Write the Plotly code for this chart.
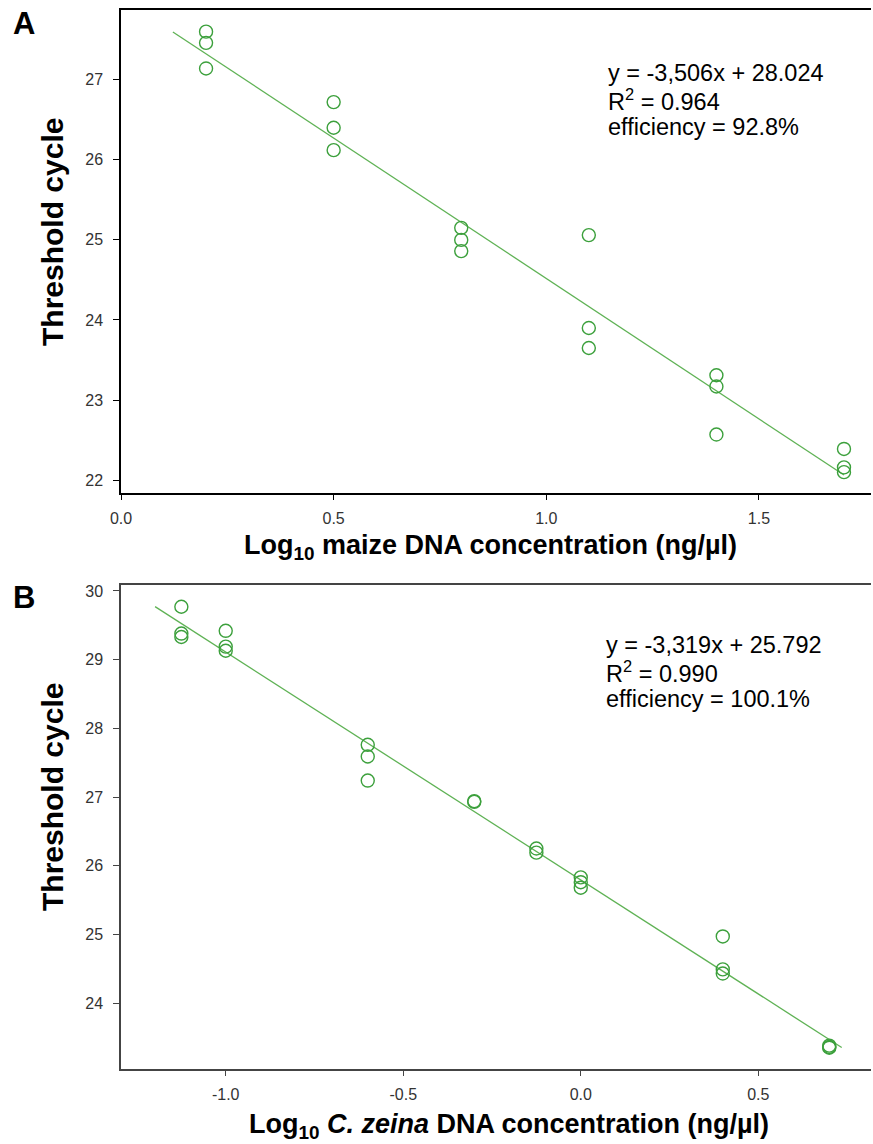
import plotly.graph_objects as go

# ---------------- data ----------------
# Panel A: maize
maize_x = [0.2, 0.2, 0.2, 0.5, 0.5, 0.5, 0.8, 0.8, 0.8,
           1.1, 1.1, 1.1, 1.4, 1.4, 1.4, 1.7, 1.7, 1.7]
maize_ct = [27.60, 27.46, 27.14, 26.72, 26.40, 26.12, 25.15, 25.00, 24.86,
            25.06, 23.90, 23.65, 23.31, 23.17, 22.57, 22.39, 22.16, 22.10]
maize_slope, maize_intercept = -3.506, 28.024
maize_fit_x = [0.122, 1.70]
maize_text = ["y = -3,506x + 28.024", "R<sup>2</sup> = 0.964", "efficiency = 92.8%"]

# Panel B: C. zeina
zeina_x = [-1.125, -1.125, -1.125, -1.0, -1.0, -1.0, -0.6, -0.6, -0.6,
           -0.3, -0.3, -0.125, -0.125, 0.0, 0.0, 0.0, 0.4, 0.4, 0.4, 0.7, 0.7, 0.7]
zeina_ct = [29.77, 29.38, 29.33, 29.42, 29.19, 29.13, 27.76, 27.59, 27.24,
            26.94, 26.93, 26.25, 26.19, 25.83, 25.76, 25.68, 24.97, 24.49, 24.43,
            23.38, 23.36, 23.35]
zeina_slope, zeina_intercept = -3.319, 25.792
zeina_fit_x = [-1.199, 0.735]
zeina_text = ["y = -3,319x + 25.792", "R<sup>2</sup> = 0.990", "efficiency = 100.1%"]

a_xticks = [0.0, 0.5, 1.0, 1.5]
a_xlabels = ["0.0", "0.5", "1.0", "1.5"]
a_yticks = [22, 23, 24, 25, 26, 27]
b_xticks = [-1.0, -0.5, 0.0, 0.5]
b_xlabels = ["-1.0", "-0.5", "0.0", "0.5"]
b_yticks = [24, 25, 26, 27, 28, 29, 30]

# ---------------- layout geometry ----------------
W, H = 873, 1144
def px_x(p): return p / W
def px_y(p): return 1 - p / H

FONT = "Liberation Sans, Arial, sans-serif"
LINE_GREEN = "rgb(95,178,85)"
MARK_GREEN = "rgb(60,160,60)"

fig = go.Figure()

# Panel A traces
fig.add_trace(go.Scatter(
    x=maize_fit_x, y=[maize_slope * v + maize_intercept for v in maize_fit_x],
    mode="lines", line=dict(color=LINE_GREEN, width=1.3),
    xaxis="x", yaxis="y", showlegend=False, hoverinfo="skip"))
fig.add_trace(go.Scatter(
    x=maize_x, y=maize_ct, mode="markers",
    marker=dict(symbol="circle-open", size=13, color=MARK_GREEN, line=dict(width=1.4, color=MARK_GREEN)),
    xaxis="x", yaxis="y", showlegend=False))

# Panel B traces
fig.add_trace(go.Scatter(
    x=zeina_fit_x, y=[zeina_slope * v + zeina_intercept for v in zeina_fit_x],
    mode="lines", line=dict(color=LINE_GREEN, width=1.3),
    xaxis="x2", yaxis="y2", showlegend=False, hoverinfo="skip"))
fig.add_trace(go.Scatter(
    x=zeina_x, y=zeina_ct, mode="markers",
    marker=dict(symbol="circle-open", size=13, color=MARK_GREEN, line=dict(width=1.4, color=MARK_GREEN)),
    xaxis="x2", yaxis="y2", showlegend=False))

xdom = [px_x(121), px_x(871)]
a_ydom = [px_y(493), px_y(10)]
b_ydom = [px_y(1069), px_y(585)]

tickfont = dict(family=FONT, size=16, color="#333")

common_x = dict(showgrid=False, zeroline=False, showline=True, linewidth=1.5,
                ticks="outside", ticklen=5, tickwidth=1.2, tickfont=tickfont,
                ticklabelstandoff=5, automargin=False)
common_y = dict(showgrid=False, zeroline=False, showline=True, linewidth=1.5,
                ticks="outside", ticklen=6, tickwidth=1.2, tickfont=tickfont,
                ticklabelstandoff=7, automargin=False)
overlay = dict(showticklabels=False, showgrid=False, zeroline=False, showline=False,
               tickwidth=1.2, automargin=False)

fig.update_layout(
    width=W, height=H,
    margin=dict(l=0, r=0, t=0, b=0, pad=0, autoexpand=False),
    paper_bgcolor="white", plot_bgcolor="white",
    font=dict(family=FONT),
    # Panel A
    xaxis=dict(domain=xdom, anchor="y", range=[0.0, 1.7635], tickvals=a_xticks, ticktext=a_xlabels,
               linecolor="black", tickcolor="black", mirror=True, **common_x),
    yaxis=dict(domain=a_ydom, anchor="x", range=[21.84, 27.87], tickvals=a_yticks,
               linecolor="black", tickcolor="black", **common_y),
    xaxis3=dict(domain=xdom, anchor="y", overlaying="x", matches="x", side="bottom",
                tickvals=a_xticks, ticks="inside", ticklen=5, tickcolor="black", **overlay),
    yaxis3=dict(domain=a_ydom, anchor="x", overlaying="y", matches="y", side="left",
                tickvals=a_yticks, ticks="inside", ticklen=6, tickcolor="black", **overlay),
    yaxis5=dict(domain=a_ydom, anchor="x", overlaying="y", matches="y", side="right",
                tickvals=a_yticks, ticks="inside", ticklen=6, tickcolor="#333", **overlay),
    # Panel B
    xaxis2=dict(domain=xdom, anchor="y2", range=[-1.295, 0.8175], tickvals=b_xticks, ticktext=b_xlabels,
                linecolor="#444", tickcolor="#444", mirror=True, **common_x),
    yaxis2=dict(domain=b_ydom, anchor="x2", range=[23.04, 30.087], tickvals=b_yticks,
                linecolor="#444", tickcolor="#444", **common_y),
    xaxis4=dict(domain=xdom, anchor="y2", overlaying="x2", matches="x2", side="bottom",
                tickvals=b_xticks, ticks="inside", ticklen=5, tickcolor="#444", **overlay),
    xaxis6=dict(domain=xdom, anchor="y2", overlaying="x2", matches="x2", side="top",
                tickvals=b_xticks, ticks="inside", ticklen=5, tickcolor="#444", **overlay),
    yaxis4=dict(domain=b_ydom, anchor="x2", overlaying="y2", matches="y2", side="left",
                tickvals=b_yticks, ticks="inside", ticklen=6, tickcolor="#444", **overlay),
    yaxis6=dict(domain=b_ydom, anchor="x2", overlaying="y2", matches="y2", side="right",
                tickvals=b_yticks, ticks="inside", ticklen=6, tickcolor="#444", **overlay),
)

ann = []
def add_text(text, x, y, size, bold=False, angle=0, xanchor="center", yanchor="middle", align="center"):
    ann.append(dict(text=f"<b>{text}</b>" if bold else text, x=px_x(x), y=px_y(y),
                    xref="paper", yref="paper", showarrow=False, textangle=angle,
                    xanchor=xanchor, yanchor=yanchor, align=align,
                    font=dict(family=FONT, size=size, color="black")))

# panel letters
add_text("A", 24, 24, 31, bold=True)
add_text("B", 24, 597, 31, bold=True)
# y titles
add_text("Threshold cycle", 52, 232, 30, bold=True, angle=-90)
add_text("Threshold cycle", 52, 797, 30, bold=True, angle=-90)
# x titles
add_text("Log<sub>10</sub> maize DNA concentration (ng/µl)", 490, 547, 27, bold=True)
add_text("Log<sub>10</sub> <i>C. zeina</i> DNA concentration (ng/µl)", 509, 1126, 27, bold=True)
# equations (one annotation per line)
for i, line in enumerate(maize_text):
    add_text(line, 606, 73 + 27 * i, 23.5, xanchor="left")
for i, line in enumerate(zeina_text):
    add_text(line, 604, 645 + 27 * i, 23.5, xanchor="left")

fig.update_layout(annotations=ann)

fig.write_html("out.html", config={"displayModeBar": False},
               post_script="document.body.style.margin='0';document.body.style.padding='0';")
